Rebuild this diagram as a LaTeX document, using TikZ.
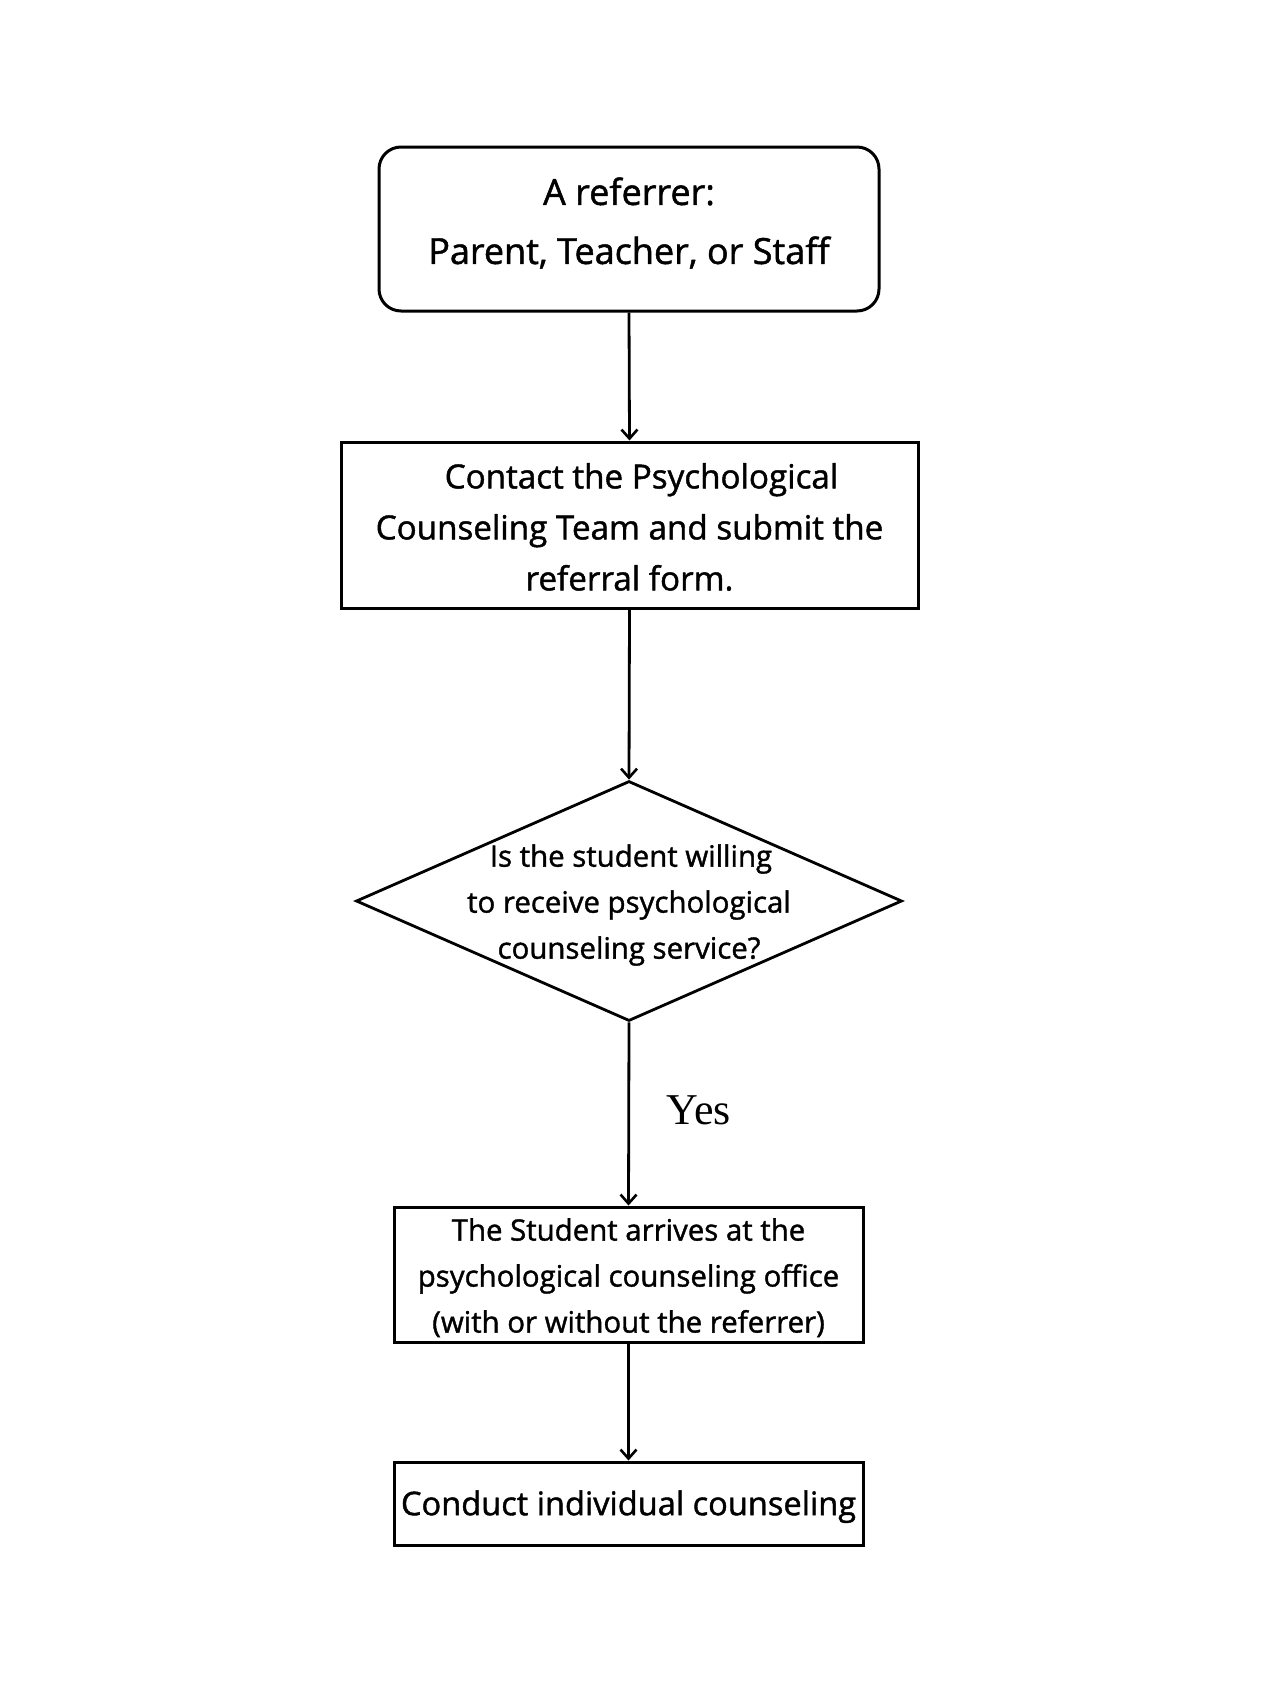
\documentclass[tikz,border=0pt]{standalone}
\usepackage{fontspec}
\setmainfont{Open Sans}[BoldFont={Open Sans},BoldFeatures={FakeBold=1.3}]
\newfontfamily\yesfont{Liberation Serif}
\usetikzlibrary{shapes.geometric,arrows.meta}
\tikzset{
  boxbase/.style={draw=black, line width=1.5pt, align=center, inner sep=0pt, text depth=0pt},
  startbox/.style={boxbase, rounded corners=11pt, minimum width=250pt, minimum height=82pt},
  procbox/.style={boxbase, rectangle},
  decbox/.style={draw=black, line width=1.4pt, diamond, minimum width=273pt, minimum height=120pt, inner sep=0pt},
  conn/.style={line width=1.4pt, -{Straight Barb[length=4.5pt,width=8pt,line width=1.3pt]}},
  txt/.style={align=center, inner sep=0pt},
}
\begin{document}
\begin{tikzpicture}[x=0.5pt,y=-0.5pt]
\useasboundingbox (0,0) rectangle (1280,1707);
\node[startbox] (ref) at (629,229) {};
\node[txt, font=\bfseries\fontsize{18}{29.5}\selectfont] (reftext) at ([yshift=3pt]ref.center) {A referrer:\\Parent, Teacher, or Staff};
\node[procbox, minimum width=288.5pt, minimum height=83pt] (contact) at (629.5,525) {};
\node[txt, font=\bfseries\fontsize{16.6}{25.5}\selectfont] (contacttext) at ([yshift=-1pt]contact.center) {\hspace*{12pt}Contact the Psychological\\Counseling Team and submit the\\referral form.};
\node[decbox] (dec) at (629,901) {};
\node[txt, font=\bfseries\fontsize{14.7}{23}\selectfont] (q) at ([yshift=-2pt]dec.center) {\hspace*{2pt}Is the student willing\\to receive psychological\\counseling service?};
\node[procbox, minimum width=234.5pt, minimum height=67.5pt] (arrive) at (628.5,1274.5) {};
\node[txt, font=\bfseries\fontsize{14.7}{23}\selectfont] (arrivetext) at ([yshift=-1.6pt]arrive.center) {The Student arrives at the\\psychological counseling office\\(with or without the referrer)};
\node[procbox, minimum width=234.5pt, minimum height=41.5pt] (conduct) at (628.5,1503.5) {};
\node[txt, font=\bfseries\fontsize{16.3}{17}\selectfont] (conducttext) at ([yshift=-1.6pt]conduct.center) {Conduct individual counseling};
\node[font=\yesfont\fontsize{22}{24}\selectfont] (yes) at (699,1110) {Yes};
\draw[conn] (ref.south) -- (contact.north);
\draw[conn] (contact.south) -- (dec.north);
\draw[conn] (dec.south) -- (arrive.north);
\draw[conn] (arrive.south) -- (conduct.north);
\end{tikzpicture}
\end{document}
